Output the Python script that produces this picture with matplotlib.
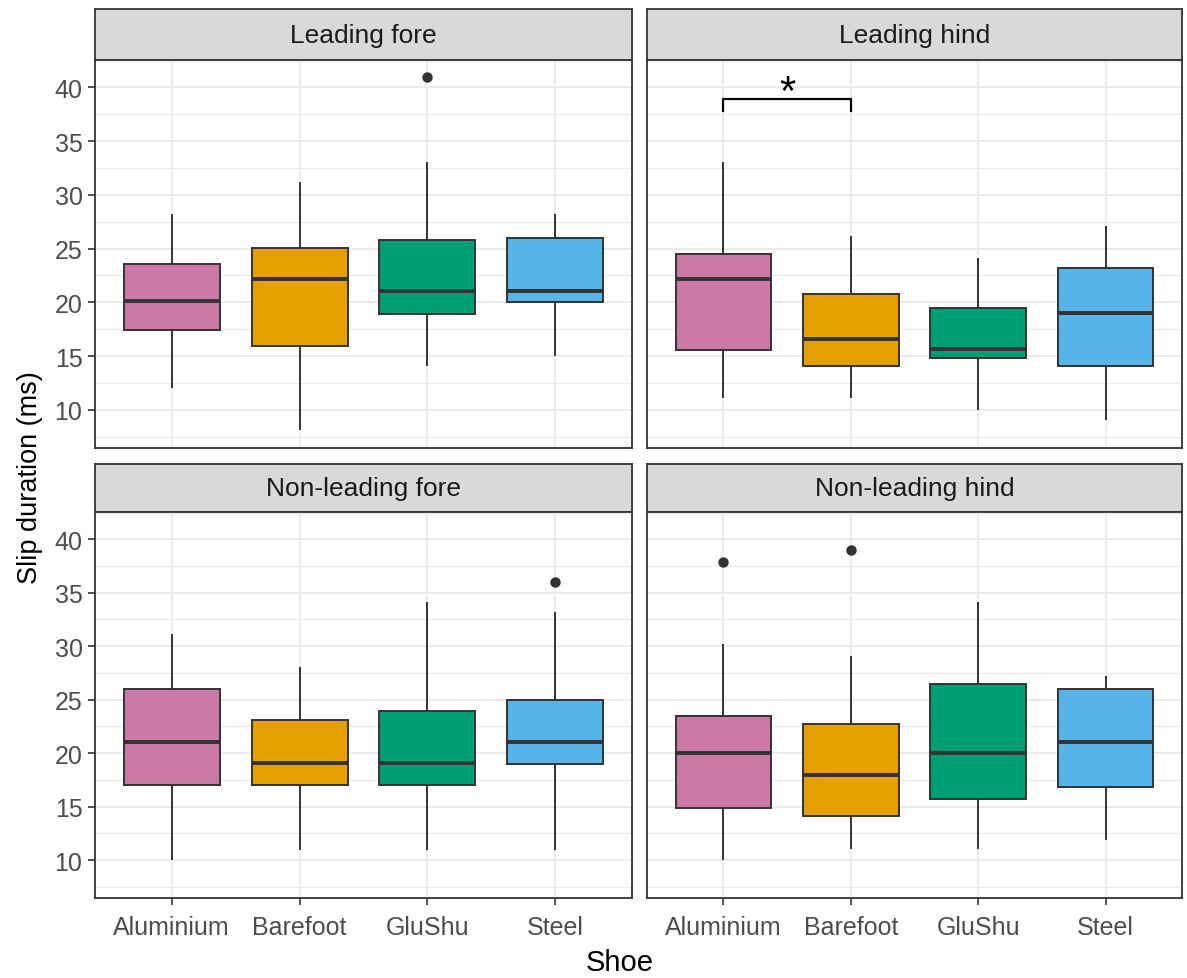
import matplotlib.pyplot as plt

plt.rcParams['font.family'] = ['Liberation Sans', 'DejaVu Sans']

shoes = ["Aluminium", "Barefoot", "GluShu", "Steel"]
colors = ["#CC79A7", "#E69F00", "#009E73", "#56B4E9"]
panels = ["Leading fore", "Leading hind", "Non-leading fore", "Non-leading hind"]

# per panel, per shoe: lower whisker, Q1, median, Q3, upper whisker
lead_fore = [[12.1, 17.4, 20.1, 23.55, 28.1],
             [8.2, 15.9, 22.2, 25.1, 31.1],
             [14.2, 18.95, 21.05, 25.8, 33.0],
             [15.1, 20.0, 21.05, 26.0, 28.1]]
lead_hind = [[11.2, 15.6, 22.2, 24.5, 33.0],
             [11.2, 14.05, 16.55, 20.75, 26.05],
             [10.1, 14.8, 15.7, 19.45, 24.0],
             [9.15, 14.05, 19.0, 23.2, 27.0]]
nonlead_fore = [[10.1, 17.0, 21.0, 25.95, 31.0],
                [11.0, 17.0, 19.1, 23.1, 28.0],
                [11.0, 17.0, 19.1, 23.9, 34.0],
                [11.0, 19.0, 21.0, 25.0, 33.1]]
nonlead_hind = [[10.1, 14.9, 20.0, 23.5, 30.1],
                [11.1, 14.1, 18.0, 22.75, 29.0],
                [11.1, 15.7, 20.0, 26.5, 34.0],
                [12.0, 16.8, 21.0, 25.95, 27.1]]
stats_all = [lead_fore, lead_hind, nonlead_fore, nonlead_hind]

# outliers per panel (one list per shoe)
outliers_all = [[[], [], [41.0], []],
                [[], [], [], []],
                [[], [], [], [36.0]],
                [[37.9], [39.0], [], []]]

# significance bracket in the Leading hind panel
sig_pair = (1, 2)
sig_y = 38.9
sig_drop = 1.1
sig_label = "*"

W, H = 1187, 979
fig = plt.figure(figsize=(W / 100, H / 100), dpi=100)

def frac(x0, y0, x1, y1):
    return [x0 / W, 1 - y1 / H, (x1 - x0) / W, (y1 - y0) / H]

cols = [(95, 632), (647, 1182)]
rows = [((10, 61), (61, 449)), ((465, 513), (513, 899))]

dark = "#333333"
for i, name in enumerate(panels):
    r, c = divmod(i, 2)
    (sy0, sy1), (py0, py1) = rows[r]
    x0, x1 = cols[c]

    # strip
    sax = fig.add_axes(frac(x0, sy0, x1, sy1))
    sax.set_facecolor("#D9D9D9")
    sax.set_xticks([])
    sax.set_yticks([])
    for s in sax.spines.values():
        s.set_color(dark)
        s.set_linewidth(1.3)
    sax.text(0.5, 0.5, name, ha="center", va="center", fontsize=19,
             color="#1A1A1A", transform=sax.transAxes)

    ax = fig.add_axes(frac(x0, py0, x1, py1))
    bstats = []
    for j, (lo, q1, med, q3, hi) in enumerate(stats_all[i]):
        bstats.append(dict(whislo=lo, q1=q1, med=med, q3=q3, whishi=hi,
                           fliers=outliers_all[i][j]))
    res = ax.bxp(bstats, positions=[1, 2, 3, 4], widths=0.75, patch_artist=True,
                 showcaps=False,
                 boxprops=dict(edgecolor=dark, linewidth=1.4),
                 whiskerprops=dict(color=dark, linewidth=1.4),
                 medianprops=dict(color=dark, linewidth=2.8, solid_capstyle="butt"),
                 flierprops=dict(marker="o", markerfacecolor=dark, markeredgecolor=dark,
                                 markersize=6.5))
    for patch, col in zip(res["boxes"], colors):
        patch.set_facecolor(col)

    ax.set_xlim(0.4, 4.6)
    ax.set_ylim(6.45, 42.55)
    ax.set_yticks([10, 15, 20, 25, 30, 35, 40])
    ax.set_yticks([7.5, 12.5, 17.5, 22.5, 27.5, 32.5, 37.5, 42.5], minor=True)
    ax.set_xticks([1, 2, 3, 4])
    ax.set_xticklabels(shoes)
    ax.grid(True, which="major", color="#EBEBEB", linewidth=1.4)
    ax.grid(True, which="minor", axis="y", color="#EBEBEB", linewidth=0.9)
    ax.set_axisbelow(True)
    for s in ax.spines.values():
        s.set_color(dark)
        s.set_linewidth(1.3)
    ax.tick_params(which="minor", length=0)
    ax.tick_params(which="major", color=dark, length=5, width=1.2,
                   labelsize=18, labelcolor="#4D4D4D")
    ax.tick_params(axis="y", pad=4)
    ax.tick_params(axis="x", pad=7)
    if c == 1:
        ax.tick_params(axis="y", left=False, labelleft=False)
    if r == 0:
        ax.tick_params(axis="x", bottom=False, labelbottom=False)

    if name == "Leading hind":
        a, b = sig_pair
        ax.plot([a, a, b, b], [sig_y - sig_drop, sig_y, sig_y, sig_y - sig_drop],
                color="black", linewidth=1.6)
        ax.text((a + b) / 2, sig_y - 0.45, sig_label, ha="center", va="baseline",
                fontsize=30, color="black")

fig.text(30 / W, 1 - 478 / H, "Slip duration (ms)", rotation=90, ha="center",
         va="center", fontsize=19.5, color="black")
fig.text(620 / W, 1 - 963 / H, "Shoe", ha="center", va="center",
         fontsize=21, color="black")

fig.savefig("out.png", dpi=100)
